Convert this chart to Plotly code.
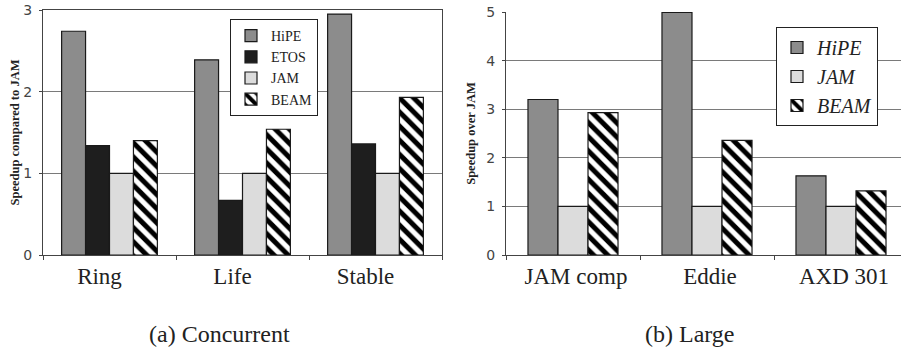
import plotly.graph_objects as go

W, H = 901, 349

# Left panel: Concurrent
cats_a = ["Ring", "Life", "Stable"]
hipe_a = [2.74, 2.39, 2.95]
etos_a = [1.34, 0.67, 1.36]
jam_a = [1.0, 1.0, 1.0]
beam_a = [1.40, 1.54, 1.93]

# Right panel: Large
cats_b = ["JAM comp", "Eddie", "AXD 301"]
hipe_b = [3.20, 4.99, 1.63]
jam_b = [1.0, 1.0, 1.0]
beam_b = [2.93, 2.36, 1.32]

C_HIPE = "#8c8c8c"
C_ETOS = "#1e1e1e"
C_JAM = "#dcdcdc"
EDGE = "#1a1a1a"

fig = go.Figure()

def add_bar(x, y, name, color, xa, ya, width, offset, legend, pattern=False):
    marker = dict(color=color, line=dict(color=EDGE, width=1.2))
    if pattern:
        marker = dict(color="white", line=dict(color=EDGE, width=1.2),
                      pattern=dict(shape="\\", fgcolor="#000000", bgcolor="white",
                                   fgopacity=1, size=10, solidity=0.5))
    fig.add_trace(go.Bar(x=x, y=y, name=name, xaxis=xa, yaxis=ya, width=width,
                         offset=offset, marker=marker, legend=legend,
                         hoverinfo="skip"))

wa = 0.18
add_bar(cats_a, hipe_a, "HiPE", C_HIPE, "x", "y", wa, -2 * wa, "legend")
add_bar(cats_a, etos_a, "ETOS", C_ETOS, "x", "y", wa, -wa, "legend")
add_bar(cats_a, jam_a, "JAM", C_JAM, "x", "y", wa, 0, "legend")
add_bar(cats_a, beam_a, "BEAM", None, "x", "y", wa, wa, "legend", pattern=True)

wb = 0.224
add_bar(cats_b, hipe_b, "<i>HiPE</i>", C_HIPE, "x2", "y2", wb, -1.5 * wb, "legend2")
add_bar(cats_b, jam_b, "<i>JAM</i>", C_JAM, "x2", "y2", wb, -0.5 * wb, "legend2")
add_bar(cats_b, beam_b, "<i>BEAM</i>", None, "x2", "y2", wb, 0.5 * wb, "legend2", pattern=True)

def py(p):
    return 1 - p / H

def px(p):
    return p / W

serif = "Liberation Serif"
sans = "DejaVu Sans"
axis_col = "#444444"
grid_col = "#7a7a7a"

common_x = dict(type="category", showline=True, linecolor=axis_col, linewidth=1,
                ticks="outside", tickson="boundaries", ticklen=4, tickcolor=axis_col,
                tickfont=dict(family=serif, size=23, color="#222222"),
                showgrid=False, fixedrange=True, automargin=False)
common_y = dict(showline=True, linecolor=axis_col, linewidth=1, ticks="outside",
                ticklen=3, tickcolor=axis_col, dtick=1, automargin=False,
                ticklabeloverflow="allow", ticklabelstandoff=4,
                tickfont=dict(family=sans, size=14, color="#444444"),
                showgrid=True, gridcolor=grid_col, gridwidth=1, zeroline=False)

fig.update_layout(
    width=W, height=H, margin=dict(l=0, r=0, t=0, b=0),
    paper_bgcolor="white", plot_bgcolor="white", barmode="overlay",
    showlegend=True, hovermode=False,
    xaxis=dict(common_x, domain=[px(43), px(442)], range=[-0.5, 2.5],
               anchor="y", mirror=True, ticklabelshift=-10),
    yaxis=dict(common_y, domain=[py(255), py(10)], range=[0, 3], anchor="x",
               mirror=True,
               title=dict(text="<b>Speedup compared to JAM</b>",
                          font=dict(family=serif, size=12.5, color="#222222"),
                          standoff=0)),
    xaxis2=dict(common_x, domain=[px(506), 1], range=[-0.5, -0.5 + 395 / 134],
                anchor="y2", ticklabelshift=3),
    yaxis2=dict(common_y, domain=[py(255), py(12)], range=[0, 5], anchor="x2",
                title=dict(text="<b>Speedup over JAM</b>",
                           font=dict(family=serif, size=12.5, color="#222222"),
                           standoff=7)),
    legend=dict(x=px(230), y=py(19), xanchor="left", yanchor="top",
                bgcolor="white", bordercolor="#222222", borderwidth=1,
                font=dict(family=serif, size=14, color="#222222"),
                itemwidth=30, tracegroupgap=0),
    legend2=dict(x=px(776), y=py(27), xanchor="left", yanchor="top",
                 bgcolor="white", bordercolor="#222222", borderwidth=1,
                 font=dict(family=serif, size=20, color="#222222"),
                 itemwidth=30, tracegroupgap=0),
    annotations=[
        dict(text="(a) Concurrent", x=px(219), y=py(334), xref="paper", yref="paper",
             xanchor="center", yanchor="middle",
             showarrow=False, font=dict(family=serif, size=24, color="#222222")),
        dict(text="(b) Large", x=px(690), y=py(334), xref="paper", yref="paper",
             xanchor="center", yanchor="middle",
             showarrow=False, font=dict(family=serif, size=24, color="#222222")),
    ],
)

fig.write_html("out.html", config={"displayModeBar": False},
               post_script="document.body.style.margin='0';document.body.style.overflow='hidden';")
